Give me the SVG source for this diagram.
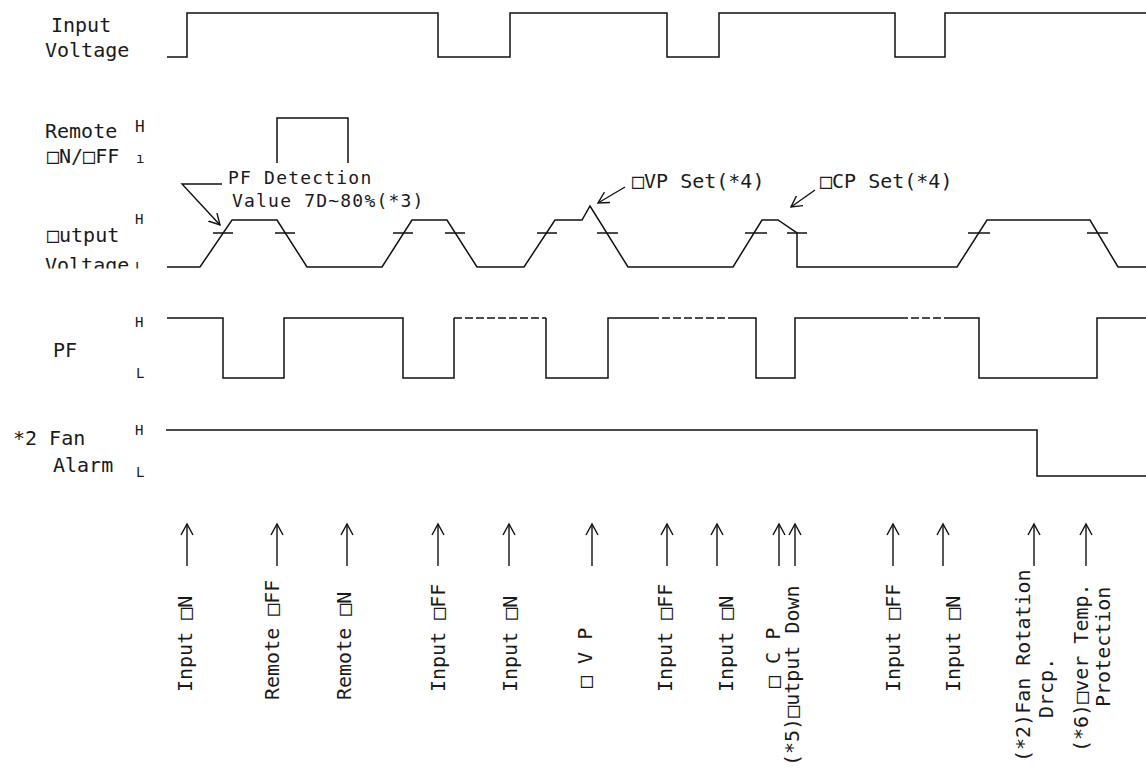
<svg xmlns="http://www.w3.org/2000/svg" width="1146" height="769" viewBox="0 0 1146 769">
<style>
text{font-family:"DejaVu Sans Mono","Liberation Mono",monospace;font-size:20px;fill:#1a1a1a}
text.s{font-size:14px}
text.n{font-size:18px;letter-spacing:1.2px}
.w{fill:none;stroke:#111;stroke-width:1.5}
.d{fill:none;stroke:#111;stroke-width:1.5;stroke-dasharray:8 3}
.a{fill:none;stroke:#111;stroke-width:1.4}
</style>
<defs>
<marker id="ah" viewBox="0 0 12 13" refX="11" refY="6.5" markerWidth="12" markerHeight="13" markerUnits="userSpaceOnUse" orient="auto">
<path d="M0,0.5 L11,6.5 L0,12.5" fill="none" stroke="#111" stroke-width="1.4"/>
</marker>
<clipPath id="cv"><rect x="0" y="240" width="160" height="28.5"/></clipPath>
</defs>
<rect width="1146" height="769" fill="#fff"/>

<g id="input-voltage">
<text x="51" y="32">Input</text>
<text x="45" y="57">Voltage</text>
<path class="w" d="M167,57 H187 V13 H438 V57 H510 V13 H667 V57 H719 V13 H895 V57 H945 V13 H1146"/>
</g>

<g id="remote-onoff">
<text x="45" y="138">Remote</text>
<text x="47" y="163">□N/□FF</text>
<text x="135" y="132" class="s" style="font-size:16px">H</text>
<text x="136" y="163" class="s">ı</text>
<path class="w" d="M277,163 V118 H348 V163"/>
</g>

<g id="output-voltage">
<text x="47" y="242">□utput</text>
<g clip-path="url(#cv)">
<text x="45" y="272">Voltage</text>
<text x="135" y="272" class="s">L</text>
</g>
<text x="135" y="224" class="s">H</text>
<path class="w" d="M167,267 H200 L232,220 H277 L307,267 H382 L412,220 H447 L477,267 H524 L555,220 H582 L590,206 L628,267 H733 L762,220 H778 L797,233 V267 H957 L987,220 H1090 L1118,267 H1146"/>
<path class="w" d="M213,233 H233 M275,233 H295 M393,233 H413 M445,233 H465 M537,233 H557 M597,233 H618 M745,233 H767 M787,233 H807 M968,233 H990 M1087,233 H1108"/>
</g>

<g id="annotations">
<text class="n" x="228" y="184">PF Detection</text>
<text class="n" x="232" y="207">Value 7D~80%(*3)</text>
<polyline class="a" points="222,184 182,184 220,225" marker-end="url(#ah)"/>
<text x="632" y="188">□VP Set(*4)</text>
<line class="a" x1="625" y1="187" x2="598" y2="203" marker-end="url(#ah)"/>
<text x="820" y="188">□CP Set(*4)</text>
<line class="a" x1="815" y1="190" x2="791" y2="207" marker-end="url(#ah)"/>
</g>

<g id="pf">
<text x="53" y="357">PF</text>
<text x="135" y="327" class="s">H</text>
<text x="136" y="378" class="s">L</text>
<path class="w" d="M167,318 H223 V378 H284 V318 H403 V378 H454 V318"/>
<path class="d" d="M454,318 H546"/>
<path class="w" d="M546,318 V378 H608 V318 H651"/>
<path class="d" d="M651,318 H730"/>
<path class="w" d="M730,318 H756 V378 H795 V318 H900"/>
<path class="d" d="M900,318 H952"/>
<path class="w" d="M952,318 H979 V378 H1097 V318 H1146"/>
</g>

<g id="fan-alarm">
<text x="13" y="445">*2 Fan</text>
<text x="53" y="472">Alarm</text>
<text x="135" y="435" class="s">H</text>
<text x="136" y="477" class="s">L</text>
<path class="w" d="M166,430 H1037 V476 H1146"/>
</g>

<g id="connectors">
<path class="a" d="M187,566 V525 M277,566 V525 M347,566 V525 M438,566 V525 M509,566 V525 M592,566 V525 M667,566 V525 M717,566 V525 M779,566 V525 M795,566 V525 M893,566 V525 M943,566 V525 M1034,566 V525 M1086,566 V525"/>
<g fill="none" stroke="#111" stroke-width="1.4">
<path d="M181,535 L187,524 L193,535"/>
<path d="M271,535 L277,524 L283,535"/>
<path d="M341,535 L347,524 L353,535"/>
<path d="M432,535 L438,524 L444,535"/>
<path d="M503,535 L509,524 L515,535"/>
<path d="M586,535 L592,524 L598,535"/>
<path d="M661,535 L667,524 L673,535"/>
<path d="M711,535 L717,524 L723,535"/>
<path d="M773,535 L779,524 L785,535"/>
<path d="M789,535 L795,524 L801,535"/>
<path d="M887,535 L893,524 L899,535"/>
<path d="M937,535 L943,524 L949,535"/>
<path d="M1028,535 L1034,524 L1040,535"/>
<path d="M1080,535 L1086,524 L1092,535"/>
</g>
</g>

<g id="event-labels">
<text transform="translate(192,692) rotate(-90)">Input □N</text>
<text transform="translate(279,700) rotate(-90)">Remote □FF</text>
<text transform="translate(351,700) rotate(-90)">Remote □N</text>
<text transform="translate(445,692) rotate(-90)">Input □FF</text>
<text transform="translate(517,692) rotate(-90)">Input □N</text>
<text transform="translate(592,688) rotate(-90)">□ V P</text>
<text transform="translate(672,692) rotate(-90)">Input □FF</text>
<text transform="translate(733,692) rotate(-90)">Input □N</text>
<text transform="translate(780,688) rotate(-90)">□ C P</text>
<text transform="translate(799,766) rotate(-90)">(*5)□utput Down</text>
<text transform="translate(900,692) rotate(-90)">Input □FF</text>
<text transform="translate(960,692) rotate(-90)">Input □N</text>
<text transform="translate(1030,762) rotate(-90)">(*2)Fan Rotation</text>
<text transform="translate(1053,718) rotate(-90)">Drcp.</text>
<text transform="translate(1088,752) rotate(-90)">(*6)□ver Temp.</text>
<text transform="translate(1110,707) rotate(-90)">Protection</text>
</g>
</svg>
